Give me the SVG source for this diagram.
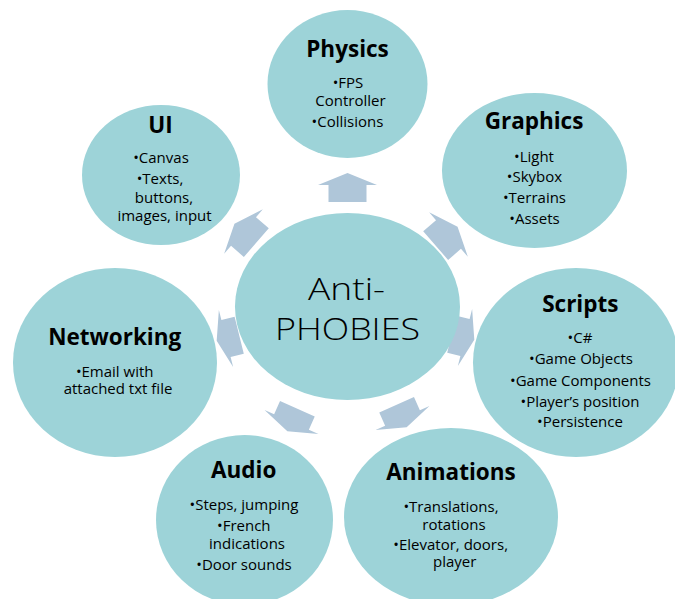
<svg xmlns="http://www.w3.org/2000/svg" width="675" height="599" viewBox="0 0 675 599">
  <defs>
    <style>
      .bubble { fill: #9dd3d8; }
      .arrow { fill: #afc6d9; }
      .title { font-family: "Open Sans", "Liberation Sans", sans-serif; font-weight: 700; font-size: 22.5px; fill: #000; text-anchor: middle; }
      .item { font-family: "Open Sans", "Liberation Sans", sans-serif; font-size: 15px; fill: #000; text-anchor: middle; }
      .hub { font-family: "Open Sans", "Liberation Sans", sans-serif; font-weight: 300; font-size: 31px; fill: #000; text-anchor: middle; }
    </style>
    <!-- block arrow pointing up, origin at the middle of the barb line -->
    <polygon id="blockArrow" class="arrow" points="-29.5,0 0,-12 29.5,0 19,0 19,17 -19,17 -19,0"/>
  </defs>

  <rect width="675" height="599" fill="#ffffff"/>

  <!-- radial arrows from the hub to each topic (drawn below the bubbles) -->
  <g id="connectors">
    <use href="#blockArrow" transform="translate(347.5,185)"/>
    <use href="#blockArrow" transform="translate(448.5,234.5) rotate(49)"/>
    <use href="#blockArrow" transform="translate(465,337.5) rotate(104) scale(1,0.8)"/>
    <use href="#blockArrow" transform="translate(402.5,418) rotate(156) scale(1,0.85)"/>
    <use href="#blockArrow" transform="translate(291.5,422) rotate(-156) scale(1,0.85)"/>
    <use href="#blockArrow" transform="translate(226,338.5) rotate(-104) scale(1,0.8)"/>
    <use href="#blockArrow" transform="translate(243.5,231.5) rotate(-49)"/>
  </g>

  <g id="hub">
    <ellipse class="bubble" cx="347.5" cy="306.5" rx="112.5" ry="93.5"/>
    <text class="hub" x="346.5" y="300" textLength="77" lengthAdjust="spacingAndGlyphs">Anti-</text>
    <text class="hub" x="347.5" y="340" textLength="145" lengthAdjust="spacingAndGlyphs">PHOBIES</text>
  </g>

  <g id="physics">
    <ellipse class="bubble" cx="347.5" cy="84" rx="80" ry="74"/>
    <text class="title" x="347.5" y="57">Physics</text>
    <text class="item" x="348" y="88">•FPS</text>
    <text class="item" x="350.5" y="106">Controller</text>
    <text class="item" x="347.5" y="126.5">•Collisions</text>
  </g>

  <g id="graphics">
    <ellipse class="bubble" cx="534.5" cy="170.5" rx="92.5" ry="77.5"/>
    <text class="title" x="534" y="129">Graphics</text>
    <text class="item" x="534" y="161.5">•Light</text>
    <text class="item" x="534.5" y="182">•Skybox</text>
    <text class="item" x="534.5" y="203">•Terrains</text>
    <text class="item" x="534.5" y="224">•Assets</text>
  </g>

  <g id="scripts">
    <ellipse class="bubble" cx="576" cy="362.5" rx="103" ry="94.5"/>
    <text class="title" x="580.3" y="312">Scripts</text>
    <text class="item" x="580" y="342.5">•C#</text>
    <text class="item" x="581" y="364">•Game Objects</text>
    <text class="item" x="580.5" y="385.5">•Game Components</text>
    <text class="item" x="580" y="406.5">•Player’s position</text>
    <text class="item" x="580" y="427">•Persistence</text>
  </g>

  <g id="animations">
    <ellipse class="bubble" cx="451" cy="517" rx="107" ry="89"/>
    <text class="title" x="451" y="480">Animations</text>
    <text class="item" x="451" y="511.5">•Translations,</text>
    <text class="item" x="454" y="529.5">rotations</text>
    <text class="item" x="450.7" y="550">•Elevator, doors,</text>
    <text class="item" x="454.7" y="566.5">player</text>
  </g>

  <g id="audio">
    <ellipse class="bubble" cx="244.5" cy="520" rx="88.5" ry="85"/>
    <text class="title" x="243.7" y="478">Audio</text>
    <text class="item" x="244" y="510">•Steps, jumping</text>
    <text class="item" x="243.8" y="530.5">•French</text>
    <text class="item" x="247" y="549">indications</text>
    <text class="item" x="244" y="570">•Door sounds</text>
  </g>

  <g id="networking">
    <ellipse class="bubble" cx="115" cy="362.5" rx="102" ry="94.5"/>
    <text class="title" x="114.7" y="345">Networking</text>
    <text class="item" x="114.7" y="376.5">•Email with</text>
    <text class="item" x="118" y="394">attached txt file</text>
  </g>

  <g id="ui">
    <ellipse class="bubble" cx="161" cy="175" rx="79" ry="70"/>
    <text class="title" x="160.5" y="133">UI</text>
    <text class="item" x="161" y="163">•Canvas</text>
    <text class="item" x="160" y="184">•Texts,</text>
    <text class="item" x="164" y="202.5">buttons,</text>
    <text class="item" x="164.5" y="220.5">images, input</text>
  </g>
</svg>
